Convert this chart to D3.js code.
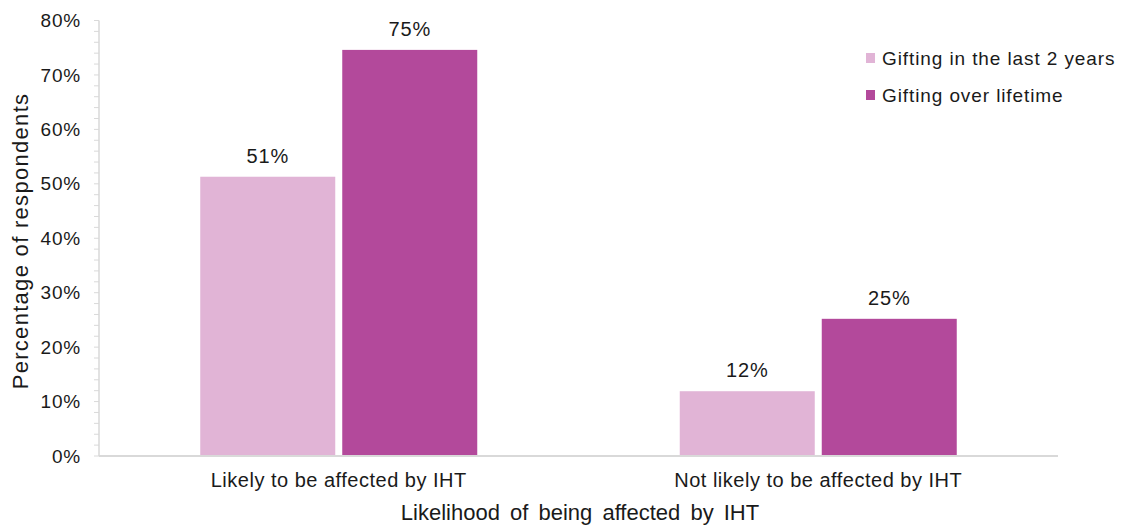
<!DOCTYPE html>
<html><head><meta charset="utf-8">
<script src="https://cdn.jsdelivr.net/npm/d3@7"></script>
<style>body{margin:0;background:#fff}svg{display:block;font-family:"Liberation Sans",Arial,sans-serif}</style>
</head><body><svg id="c" width="1123" height="530"></svg>
<script>
const categories = ["Likely to be affected by IHT", "Not likely to be affected by IHT"];
const seriesNames = ["Gifting in the last 2 years", "Gifting over lifetime"];
const last2Years = [51.3, 11.9];
const overLifetime = [74.6, 25.2];
const yTicks = [0, 10, 20, 30, 40, 50, 60, 70, 80];
const colors = ["#e1b4d6", "#b3499b"];

(function () {
const svg = d3.select("#c");
const mLeft = 99, mRight = 1058, mTop = 20.5, mBottom = 456;
const txt = "#1a1a1a";
const x = d3.scaleBand().domain(categories).range([mLeft, mRight]).paddingInner(0).paddingOuter(0);
const inner = d3.scaleBand().domain(seriesNames).range([0, 277]).paddingInner(7 / 142).paddingOuter(0);
const y = d3.scaleLinear().domain([0, 80]).range([mBottom, mTop]);

const minor = d3.range(0, 81, 2);
svg.append("g").selectAll("line").data(minor).join("line")
  .attr("x1", mLeft - 5).attr("x2", mLeft).attr("y1", d => y(d)).attr("y2", d => y(d))
  .attr("stroke", "#d9d9d9").attr("stroke-width", 1);
svg.append("line").attr("x1", mLeft).attr("x2", mLeft).attr("y1", y(80)).attr("y2", mBottom)
  .attr("stroke", "#d9d9d9").attr("stroke-width", 1.5);
svg.append("g").selectAll("text").data(yTicks).join("text")
  .attr("x", 81).attr("y", d => y(d)).attr("dy", "0.35em").attr("text-anchor", "end")
  .attr("font-size", 19).attr("letter-spacing", 0.8).attr("fill", txt).text(d => d + "%");

const data = categories.map((c, i) => ({cat: c, vals: [last2Years[i], overLifetime[i]]}));
const groups = svg.append("g").selectAll("g").data(data).join("g")
  .attr("transform", d => `translate(${x(d.cat) + x.bandwidth() / 2 - 138.5},0)`);
groups.selectAll("rect").data(d => d.vals.map((v, j) => ({v, s: seriesNames[j], j}))).join("rect")
  .attr("x", d => inner(d.s)).attr("width", inner.bandwidth())
  .attr("y", d => y(d.v)).attr("height", d => mBottom - y(d.v))
  .attr("fill", d => colors[d.j]);
groups.selectAll("text").data(d => d.vals.map((v, j) => ({v, s: seriesNames[j], j}))).join("text")
  .attr("x", d => inner(d.s) + inner.bandwidth() / 2).attr("y", d => y(d.v) - 14)
  .attr("text-anchor", "middle").attr("font-size", 20).attr("letter-spacing", 0.8).attr("fill", txt)
  .text(d => Math.round(d.v) + "%");

svg.append("line").attr("x1", mLeft).attr("x2", mRight).attr("y1", mBottom).attr("y2", mBottom)
  .attr("stroke", "#d9d9d9").attr("stroke-width", 2);
svg.append("g").selectAll("text").data(categories).join("text")
  .attr("x", d => x(d) + x.bandwidth() / 2).attr("y", 487).attr("text-anchor", "middle")
  .attr("font-size", 20).attr("letter-spacing", 0.5).attr("fill", txt).text(d => d);

svg.append("text").attr("x", 580).attr("y", 520).attr("text-anchor", "middle")
  .attr("font-size", 22).attr("word-spacing", 4).attr("fill", txt).text("Likelihood of being affected by IHT");
svg.append("text").attr("transform", `translate(27.5,241) rotate(-90)`)
  .attr("text-anchor", "middle").attr("font-size", 22).attr("letter-spacing", 1.3).attr("fill", txt)
  .text("Percentage of respondents");

const lg = svg.append("g").selectAll("g").data(seriesNames).join("g")
  .attr("transform", (d, i) => `translate(866,${58 + i * 37})`);
lg.append("rect").attr("x", 0).attr("y", -5).attr("width", 9).attr("height", 10)
  .attr("fill", (d, i) => colors[i]);
lg.append("text").attr("x", 16).attr("y", 0).attr("dy", "0.35em").attr("font-size", 19)
  .attr("letter-spacing", 0.9).attr("fill", txt).text(d => d);
})();
</script></body></html>
